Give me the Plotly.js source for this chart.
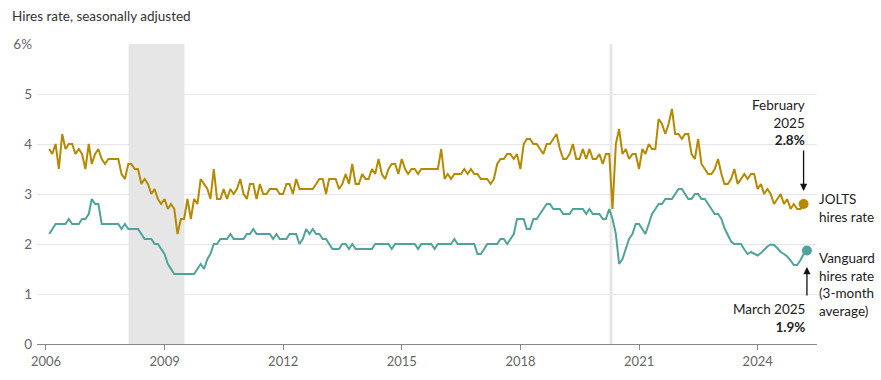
<!DOCTYPE html>
<html>
<head>
<meta charset="utf-8">
<script src="https://cdn.plot.ly/plotly-3.0.1.min.js"></script>
<style>html,body{margin:0;padding:0;background:#fff;}#chart{width:881px;height:380px;}</style>
</head>
<body>
<div id="chart"></div>
<script>
// Monthly series, first value = January 2006
const startYear = 2006;
const joltsRate = [
  3.9,3.8,4.0,3.5,4.2,3.9,4.0,4.0,3.8,3.9,3.8,3.5,
  4.0,3.6,3.8,3.9,3.7,3.6,3.7,3.7,3.7,3.7,3.4,3.3,
  3.6,3.6,3.5,3.5,3.2,3.3,3.2,3.0,3.1,2.9,2.8,2.9,
  2.7,2.8,2.7,2.2,2.5,2.5,2.9,2.5,2.9,2.8,3.3,3.2,
  3.1,2.9,3.5,2.9,2.9,3.1,2.9,3.1,3.0,3.1,3.3,3.0,
  2.9,3.2,3.2,2.9,3.2,3.0,3.0,3.1,3.1,3.1,3.0,3.0,
  3.2,3.2,3.0,3.3,3.1,3.1,3.1,3.1,3.1,3.2,3.3,3.3,
  3.0,3.3,3.3,3.3,3.1,3.2,3.4,3.2,3.6,3.2,3.2,3.4,
  3.3,3.3,3.5,3.4,3.7,3.4,3.3,3.5,3.6,3.6,3.4,3.7,
  3.5,3.4,3.5,3.5,3.4,3.5,3.5,3.5,3.5,3.5,3.5,3.9,
  3.3,3.4,3.3,3.4,3.4,3.4,3.5,3.4,3.5,3.4,3.4,3.3,
  3.3,3.3,3.2,3.3,3.6,3.7,3.7,3.8,3.8,3.7,3.8,3.5,
  4.0,4.1,4.1,4.0,4.0,3.9,3.8,4.0,4.0,4.1,4.2,3.9,
  3.7,3.7,3.8,4.0,3.7,3.7,3.9,3.7,3.9,3.7,3.7,3.8,
  3.6,3.8,3.8,2.7,4.0,4.3,3.8,3.9,3.7,3.8,3.8,3.5,
  3.9,3.8,4.0,3.9,3.9,4.5,4.4,4.2,4.4,4.7,4.2,4.2,
  4.1,4.2,4.2,3.8,3.7,4.1,3.6,3.5,3.4,3.4,3.5,3.7,
  3.4,3.2,3.2,3.3,3.5,3.2,3.3,3.4,3.3,3.4,3.4,3.1,
  3.2,3.0,3.1,3.0,2.8,2.9,3.0,2.8,2.9,2.7,2.8,2.7,
  2.7,2.8
];
const vanguardRate = [
  2.2,2.3,2.4,2.4,2.4,2.4,2.5,2.4,2.4,2.4,2.5,2.5,
  2.6,2.9,2.8,2.8,2.4,2.4,2.4,2.4,2.4,2.4,2.3,2.4,
  2.3,2.3,2.3,2.3,2.2,2.1,2.1,2.1,2.0,2.0,1.9,1.8,
  1.6,1.5,1.4,1.4,1.4,1.4,1.4,1.4,1.4,1.5,1.6,1.5,
  1.7,1.8,2.0,2.0,2.1,2.1,2.1,2.2,2.1,2.1,2.1,2.1,
  2.2,2.2,2.3,2.2,2.2,2.2,2.2,2.2,2.1,2.2,2.1,2.1,
  2.1,2.2,2.2,2.2,2.0,2.1,2.3,2.2,2.3,2.2,2.2,2.1,
  2.1,2.0,1.9,1.9,1.9,2.0,2.0,1.9,2.0,1.9,1.9,1.9,
  1.9,1.9,1.9,2.0,2.0,2.0,2.0,2.0,1.9,2.0,2.0,2.0,
  2.0,2.0,2.0,2.0,1.9,2.0,2.0,2.0,2.0,1.9,2.0,2.0,
  2.0,2.0,2.0,2.1,2.0,2.0,2.0,2.0,2.0,2.0,1.8,1.8,
  1.9,2.0,2.0,2.0,2.0,2.1,2.1,2.0,2.1,2.2,2.5,2.5,
  2.5,2.3,2.3,2.5,2.5,2.6,2.7,2.8,2.8,2.7,2.7,2.7,
  2.6,2.6,2.6,2.7,2.7,2.7,2.7,2.6,2.7,2.6,2.6,2.6,
  2.5,2.5,2.7,2.5,2.2,1.6,1.7,1.9,2.1,2.2,2.4,2.4,
  2.3,2.2,2.4,2.6,2.7,2.8,2.8,2.9,2.9,2.9,3.0,3.1,
  3.1,3.0,2.9,2.9,3.0,3.0,2.9,2.9,2.8,2.7,2.6,2.6,
  2.5,2.32,2.19,2.05,2.0,2.0,2.0,1.89,1.8,1.84,1.8,1.77,
  1.82,1.89,1.95,1.99,1.98,1.92,1.84,1.8,1.75,1.67,1.58,1.58,
  1.68,1.8,1.87
];
const tickYears = [2006, 2009, 2012, 2015, 2018, 2021, 2024];
const yTickVals = [0, 1, 2, 3, 4, 5, 6];
const yTickText = ['0', '1', '2', '3', '4', '5', '6%'];
const recessions = [['2008-02-03', '2009-07-03'], ['2020-04-03', '2020-04-30']];

const GOLD = '#b58900';
const TEAL = '#4fa39a';
const FONT = 'Lato, "Open Sans", sans-serif';

function monthEnd(i) {
  const y = startYear + Math.floor(i / 12), m = i % 12;
  const d = new Date(Date.UTC(y, m + 1, 0));
  return d.toISOString().slice(0, 10);
}
const joltsX = joltsRate.map((_, i) => monthEnd(i));
const vanX = vanguardRate.map((_, i) => monthEnd(i));
const jLastX = joltsX[joltsX.length - 1], jLastY = joltsRate[joltsRate.length - 1];
const vLastX = vanX[vanX.length - 1], vLastY = vanguardRate[vanguardRate.length - 1];

const traces = [
  {x: joltsX, y: joltsRate, type: 'scatter', mode: 'lines', line: {color: GOLD, width: 2}, hoverinfo: 'skip'},
  {x: vanX, y: vanguardRate, type: 'scatter', mode: 'lines', line: {color: TEAL, width: 2}, hoverinfo: 'skip'},
  {x: [jLastX], y: [jLastY], type: 'scatter', mode: 'markers', marker: {color: GOLD, size: 10}, hoverinfo: 'skip'},
  {x: [vLastX], y: [vLastY], type: 'scatter', mode: 'markers', marker: {color: TEAL, size: 10}, hoverinfo: 'skip'}
];

const shapes = recessions.map(r => ({
  type: 'rect', xref: 'x', yref: 'y', x0: r[0], x1: r[1], y0: 0, y1: 6,
  fillcolor: '#e6e6e6', line: {width: 0}, layer: 'between'
}));

const txt = {family: FONT, size: 13.5, color: '#222'};
const annotations = [
  {xref: 'x', yref: 'y', x: jLastX, y: jLastY + 0.26, ax: 0, ay: -42, text: '', showarrow: true,
   arrowhead: 2, arrowsize: 1.1, arrowwidth: 1.3, arrowcolor: '#111'},
  {xref: 'x', yref: 'y', x: vLastX, y: vLastY - 0.33, ax: 0, ay: 30, text: '', showarrow: true,
   arrowhead: 2, arrowsize: 1.1, arrowwidth: 1.3, arrowcolor: '#111'},
  {xref: 'paper', yref: 'paper', x: 0.9868, y: 0.7387, xanchor: 'right', yanchor: 'middle', align: 'right',
   showarrow: false, text: 'February<br>2025<br><b>' + jLastY.toFixed(1) + '%</b>', font: txt},
  {xref: 'paper', yref: 'paper', x: 0.9868, y: 0.086, xanchor: 'right', yanchor: 'middle', align: 'right',
   showarrow: false, text: 'March 2025<br><b>' + vLastY.toFixed(1) + '%</b>', font: txt},
  {xref: 'paper', yref: 'paper', x: 1.0, y: 0.4543, xanchor: 'left', yanchor: 'middle', align: 'left',
   showarrow: false, text: 'JOLTS<br>hires rate', font: txt},
  {xref: 'paper', yref: 'paper', x: 1.0, y: 0.1967, xanchor: 'left', yanchor: 'middle', align: 'left',
   showarrow: false, text: 'Vanguard<br>hires rate<br>(3-month<br>average)', font: txt}
];

const layout = {
  width: 881, height: 380,
  margin: {l: 37, r: 64, t: 44, b: 36, pad: 0},
  paper_bgcolor: '#fff', plot_bgcolor: '#fff',
  showlegend: false,
  font: {family: FONT, size: 13, color: '#666'},
  title: {text: 'Hires rate, seasonally adjusted', x: 12 / 881, xref: 'container', xanchor: 'left',
          y: 1 - 16 / 380, yref: 'container', yanchor: 'middle', font: {family: FONT, size: 13.5, color: '#333'}},
  xaxis: {
    type: 'date', range: ['2005-10-10', '2025-07-02'],
    tickmode: 'array', tickvals: tickYears.map(y => y + '-01-01'), ticktext: tickYears.map(String),
    ticks: 'outside', ticklen: 5, tickcolor: '#888', tickwidth: 1,
    showline: true, linecolor: '#888', linewidth: 1, showgrid: false, zeroline: false,
    tickfont: {family: FONT, size: 13, color: '#666'}, fixedrange: true
  },
  yaxis: {
    range: [0, 6], tickmode: 'array', tickvals: yTickVals, ticktext: yTickText,
    showgrid: true, gridcolor: '#e6e6e6', gridwidth: 1, zeroline: false, showline: false, ticks: '',
    ticklabelstandoff: 4,
    tickfont: {family: FONT, size: 13.5, color: '#666'}, fixedrange: true
  },
  shapes: shapes,
  annotations: annotations
};

Plotly.newPlot('chart', traces, layout, {staticPlot: true, displayModeBar: false});
</script>
</body>
</html>
